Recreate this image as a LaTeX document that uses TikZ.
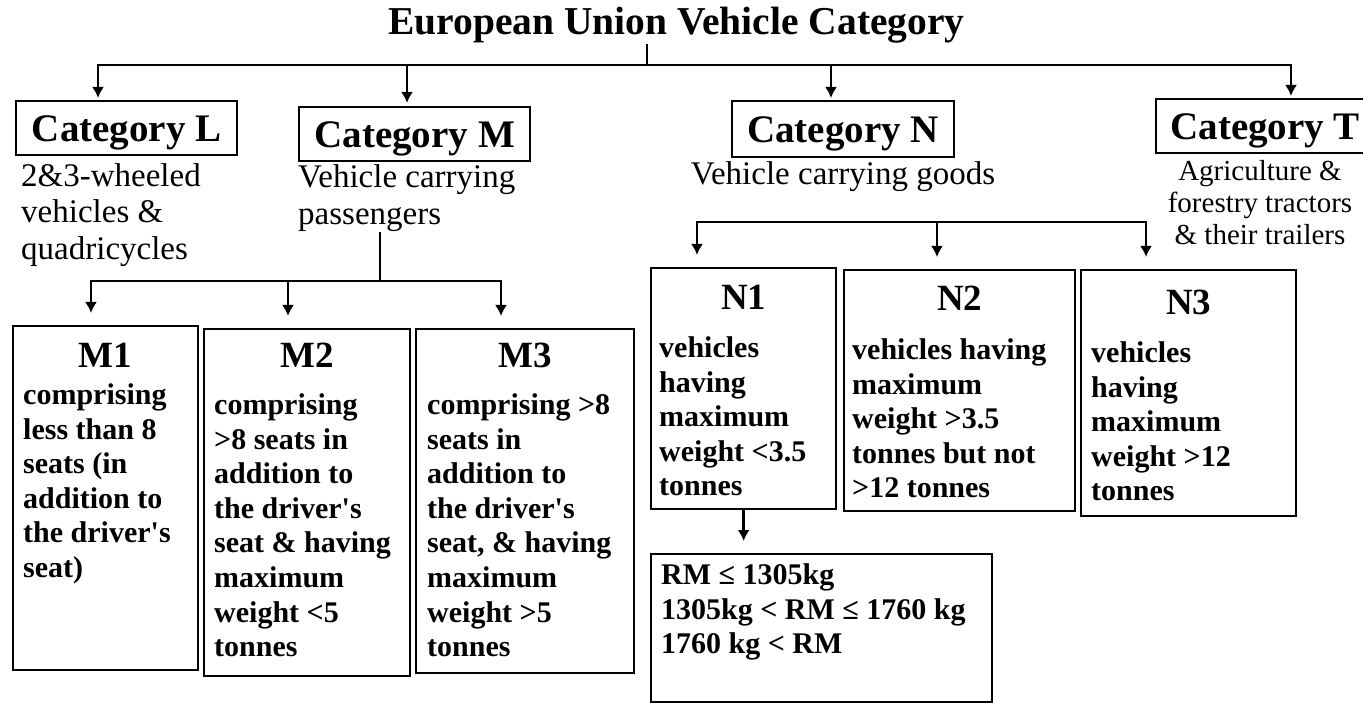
\documentclass[tikz,border=0pt]{standalone}
\usepackage{fontspec}
\setmainfont{Liberation Serif}
\usetikzlibrary{arrows.meta}

\tikzset{
  catbox/.style={draw, line width=2.3pt, inner sep=0pt, anchor=north west, text depth=0pt,
    font=\fontsize{39}{40}\selectfont\bfseries},
  subbox/.style={draw, line width=2.3pt, inner sep=0pt, anchor=north west},
  headtxt/.style={inner sep=0pt, font=\fontsize{37}{40}\selectfont\bfseries},
  bodytxt/.style={inner sep=0pt, anchor=north west, align=left,
    font=\fontsize{30}{34.6}\selectfont\bfseries},
  desctxt/.style={inner sep=0pt, align=left, font=\fontsize{33}{36.5}\selectfont},
  bus/.style={line width=2.8pt, line join=miter},
  drop/.style={bus, ->, shorten >=12pt},
  span/.style={bus, <->, shorten <=12pt, shorten >=12pt},
}

\begin{document}
\begin{tikzpicture}[x=1pt, y=-1pt, >={Latex[length=11pt,width=12pt]}]
  \useasboundingbox (0,0) rectangle (1363,703);
  \clip (0,0) rectangle (1363,703);

  % title
  \node[inner sep=0pt, anchor=base, font=\fontsize{39.5}{40}\selectfont\bfseries] (title) at (676.5,35) {European Union Vehicle Category};

  % main categories
  \node[catbox, minimum width=221, minimum height=54] (catL) at (15,100) {Category L};
  \node[catbox, minimum width=231, minimum height=54] (catM) at (298,106) {Category M};
  \node[catbox, minimum width=222, minimum height=56] (catN) at (731,100) {Category N};
  \node[catbox, minimum width=218, minimum height=54] (catT) at (1155,98) {Category T};

  \node[desctxt, anchor=north west] (descL) at (21,160.5) {\strut 2\&3-wheeled\\ vehicles \&\\ quadricycles};
  \node[desctxt, anchor=north west] (descM) at (298,162) {\strut Vehicle carrying\\ passengers};
  \node[desctxt, anchor=base] (descN) at (843,185) {Vehicle carrying goods};
  \node[desctxt, anchor=north, align=center, font=\fontsize{29}{32}\selectfont] (descT) at (1260,157.6) {\strut Agriculture \&\\ forestry tractors\\ \& their trailers};

  % M sub-categories
  \node[subbox, minimum width=185, minimum height=344] (m1) at (12,325) {};
  \node[subbox, minimum width=206, minimum height=347] (m2) at (203,328) {};
  \node[subbox, minimum width=218, minimum height=344] (m3) at (415,328) {};
  \node[headtxt] (m1h) at ([yshift=-30pt]m1.north) {M1};
  \node[headtxt] (m2h) at ([yshift=-27pt]m2.north) {M2};
  \node[headtxt] (m3h) at ([yshift=-27pt]m3.north) {M3};
  \node[bodytxt] (m1t) at (23,380) {\strut comprising\\ less than 8\\ seats (in\\ addition to\\ the driver\textquotesingle s\\ seat)};
  \node[bodytxt] (m2t) at (214,390) {\strut comprising\\ >8 seats in\\ addition to\\ the driver\textquotesingle s\\ seat \& having\\ maximum\\ weight <5\\ tonnes};
  \node[bodytxt] (m3t) at (427,390) {\strut comprising >8\\ seats in\\ addition to\\ the driver\textquotesingle s\\ seat, \& having\\ maximum\\ weight >5\\ tonnes};

  % N sub-categories
  \node[subbox, minimum width=185, minimum height=241] (n1) at (650,267) {};
  \node[subbox, minimum width=231, minimum height=241] (n2) at (843,269) {};
  \node[subbox, minimum width=215, minimum height=246] (n3) at (1080,269) {};
  \node[headtxt] (n1h) at ([yshift=-30pt]n1.north) {N1};
  \node[headtxt] (n2h) at ([yshift=-29pt]n2.north) {N2};
  \node[headtxt] (n3h) at ([yshift=-33pt]n3.north) {N3};
  \node[bodytxt] (n1t) at (659,333) {\strut vehicles\\ having\\ maximum\\ weight <3.5\\ tonnes};
  \node[bodytxt] (n2t) at (852,335) {\strut vehicles having\\ maximum\\ weight >3.5\\ tonnes but not\\ >12 tonnes};
  \node[bodytxt] (n3t) at (1091,338) {\strut vehicles\\ having\\ maximum\\ weight >12\\ tonnes};

  \node[subbox, minimum width=341, minimum height=148] (rm) at (650,553) {};
  \node[bodytxt] (rmt) at (661,560) {\strut RM ≤ 1305kg\\ 1305kg < RM ≤ 1760 kg\\ 1760 kg < RM};

  % connectors
  \coordinate (hub) at (647,65);
  \coordinate (busW) at (98,65);
  \coordinate (busE) at (1291,65);
  \coordinate (tapM) at (407,65);
  \coordinate (tapN) at (831,65);
  \draw[bus] (title.south -| hub) -- (hub);
  \draw[bus, <->, shorten <=2pt, shorten >=2pt] (busW |- catL.north) -- (busW) -- (busE) -- (busE |- catT.north);
  \draw[bus, ->, shorten >=3pt] (tapM) -- (tapM |- catM.north);
  \draw[bus, ->, shorten >=2pt] (tapN) -- (tapN |- catN.north);

  \coordinate (mhub) at (380,281);
  \coordinate (mW) at (91,281);
  \coordinate (mC) at (288,281);
  \coordinate (mE) at (501,281);
  \draw[bus] (descM.south -| mhub) -- (mhub);
  \draw[span] (mW |- m1.north) -- (mW) -- (mE) -- (mE |- m3.north);
  \draw[drop] (mC) -- (mC |- m2.north);

  \coordinate (nW) at (697,222);
  \coordinate (nC) at (937,222);
  \coordinate (nE) at (1146,222);
  \draw[span] (nW |- n1.north) -- (nW) -- (nE) -- (nE |- n3.north);
  \draw[drop] (nC) -- (nC |- n2.north);

  \draw[drop] (n1.south) -- (n1.south |- rm.north);
\end{tikzpicture}
\end{document}
